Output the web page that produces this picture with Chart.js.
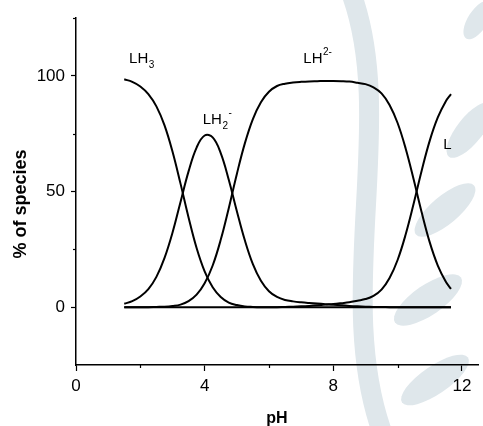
<!DOCTYPE html>
<html><head><meta charset="utf-8">
<script src="https://cdn.jsdelivr.net/npm/chart.js@4/dist/chart.umd.min.js"></script>
<style>html,body{margin:0;padding:0;background:#fff;}canvas{display:block;}</style>
</head><body>
<canvas id="c" width="483" height="426"></canvas>
<script>
// pH grid (x values)
const pH = [1.5,1.75,2.0,2.25,2.5,2.75,3.0,3.25,3.5,3.75,4.0,4.25,4.5,4.75,5.0,5.25,5.5,5.75,6.0,6.25,6.5,6.75,7.0,7.25,7.5,7.75,8.0,8.25,8.5,8.75,9.0,9.25,9.5,9.75,10.0,10.25,10.5,10.75,11.0,11.25,11.5,11.66];
// % of species
const LH3 = [98.5,97.4,95.4,92.1,86.8,78.7,67.3,53.4,38.8,25.6,15.5,8.6,4.4,2.0,0.9,0.3,0.1,0,0,0,0,0,0,0,0,0,0,0,0,0,0,0,0,0,0,0,0,0,0,0,0,0];
const LH2 = [1.5,2.6,4.6,7.8,13.1,21.2,32.2,45.5,58.7,69.0,74.2,73.4,66.6,55.1,41.6,28.9,18.6,11.4,6.9,4.4,3.1,2.5,2.1,1.8,1.55,1.3,1.05,0.8,0.55,0.35,0.2,0.1,0.05,0,0,0,0,0,0,0,0,0];
const LH = [0,0,0,0,0.1,0.2,0.5,1.1,2.6,5.4,10.3,18.0,29.1,42.8,57.5,70.8,81.3,88.6,93.1,95.6,96.6,97.1,97.4,97.6,97.7,97.8,97.8,97.7,97.5,97.0,96.4,95.0,92.4,87.4,79.6,68.6,55.2,40.9,28.0,18.0,11.0,7.9];
const L = [0,0,0,0,0,0,0,0,0,0,0,0,0,0,0,0,0,0,0,0,0.1,0.2,0.35,0.55,0.8,1.1,1.35,1.7,2.1,2.8,3.5,4.9,7.6,12.6,20.4,31.4,44.8,59.1,72.0,82.0,89.0,92.1];
// ticks
const xMajorTicks = [0,4,8,12];
const xMinorTicks = [2,6,10];
const yMajorTicks = [0,50,100];
const yMinorTicks = [25,75,125];
// species labels
const labelMain = ['LH','LH','LH','L'];
const labelSub  = ['3','2','',''];
const labelSup  = ['','-','2-',''];
const labelPH   = [1.65,3.94,7.07,11.42];
const labelPct  = [105.4,79.2,105.4,68.4];

const FONT = "'Liberation Sans', Arial, Helvetica, sans-serif";

// faint background watermark (decorative, not data)
const watermark = {
  id: 'watermark',
  beforeDraw(chart) {
    const ctx = chart.ctx;
    ctx.save();
    ctx.fillStyle = '#dfe7eb';
    ctx.strokeStyle = '#dfe7eb';
    ctx.lineCap = 'round';
    ctx.lineWidth = 20;
    ctx.beginPath();
    ctx.moveTo(350, -10);
    ctx.bezierCurveTo(400, 120, 330, 300, 385, 440);
    ctx.stroke();
    const leaves = [[470,130,34,13,-0.9],[445,210,38,14,-0.7],[428,300,40,15,-0.6],[435,380,40,14,-0.6],[478,20,22,10,-1.0]];
    leaves.forEach(([cx,cy,rx,ry,rot]) => {
      ctx.beginPath(); ctx.ellipse(cx, cy, rx, ry, rot, 0, Math.PI * 2); ctx.fill();
    });
    ctx.restore();
  }
};

const extras = {
  id: 'extras',
  afterDraw(chart) {
    const {ctx, chartArea, scales:{x, y}} = chart;
    ctx.save();
    ctx.strokeStyle = '#000';
    ctx.lineWidth = 1.2;
    xMinorTicks.forEach(v => {
      const px = Math.round(x.getPixelForValue(v)) + 0.5;
      ctx.beginPath(); ctx.moveTo(px, chartArea.bottom); ctx.lineTo(px, chartArea.bottom + 3); ctx.stroke();
    });
    yMinorTicks.forEach(v => {
      const py = Math.round(y.getPixelForValue(v)) + 0.5;
      ctx.beginPath(); ctx.moveTo(chartArea.left, py); ctx.lineTo(chartArea.left - 3, py); ctx.stroke();
    });
    ctx.fillStyle = '#000';
    ctx.textBaseline = 'alphabetic';
    ctx.textAlign = 'left';
    labelMain.forEach((t, i) => {
      let px = x.getPixelForValue(labelPH[i]);
      const py = y.getPixelForValue(labelPct[i]);
      ctx.font = '15px ' + FONT;
      ctx.fillText(t, px, py);
      px += ctx.measureText(t).width + 0.5;
      ctx.font = '10px ' + FONT;
      if (labelSub[i]) { ctx.fillText(labelSub[i], px, py + 5); px += ctx.measureText(labelSub[i]).width + 0.5; }
      if (labelSup[i]) { ctx.fillText(labelSup[i], px, py - 8); }
    });
    ctx.restore();
  }
};

const mk = arr => pH.map((v, i) => ({x: v, y: arr[i]}));
const ds = (label, arr) => ({label, data: mk(arr), borderColor: '#000', borderWidth: 2, pointRadius: 0, fill: false, tension: 0.4});

new Chart(document.getElementById('c'), {
  type: 'line',
  data: { datasets: [ds('LH3', LH3), ds('LH2-', LH2), ds('LH2-', LH), ds('L', L)] },
  options: {
    responsive: false, animation: false, devicePixelRatio: 1,
    layout: { padding: {top: 18, right: 5, left: 0, bottom: 0} },
    plugins: { legend: {display: false}, tooltip: {enabled: false} },
    scales: {
      x: {
        type: 'linear', min: 0, max: 12.5,
        afterBuildTicks: s => { s.ticks = xMajorTicks.map(v => ({value: v})); },
        afterFit: s => { s.height = 61; },
        grid: {drawOnChartArea: false, drawTicks: true, tickLength: 6, tickColor: '#000', tickWidth: 1.2},
        border: {display: true, color: '#000', width: 1.5},
        ticks: {color: '#000', font: {size: 17, family: FONT}, padding: 5, maxRotation: 0, autoSkip: false},
        title: {display: true, text: 'pH', color: '#000', font: {size: 16, weight: 'bold', family: FONT}, padding: {top: 0, bottom: -2}}
      },
      y: {
        min: -25, max: 125,
        afterBuildTicks: s => { s.ticks = yMajorTicks.map(v => ({value: v})); },
        afterFit: s => { s.width = 76; },
        grid: {drawOnChartArea: false, drawTicks: true, tickLength: 5, tickColor: '#000', tickWidth: 1.2},
        border: {display: true, color: '#000', width: 1.5},
        ticks: {color: '#000', font: {size: 17, family: FONT}, padding: 6, autoSkip: false},
        title: {display: true, text: '% of species     ', color: '#000', font: {size: 18, weight: 'bold', family: FONT}, padding: {top: 10, bottom: 0}}
      }
    }
  },
  plugins: [watermark, extras]
});
</script>
</body></html>
